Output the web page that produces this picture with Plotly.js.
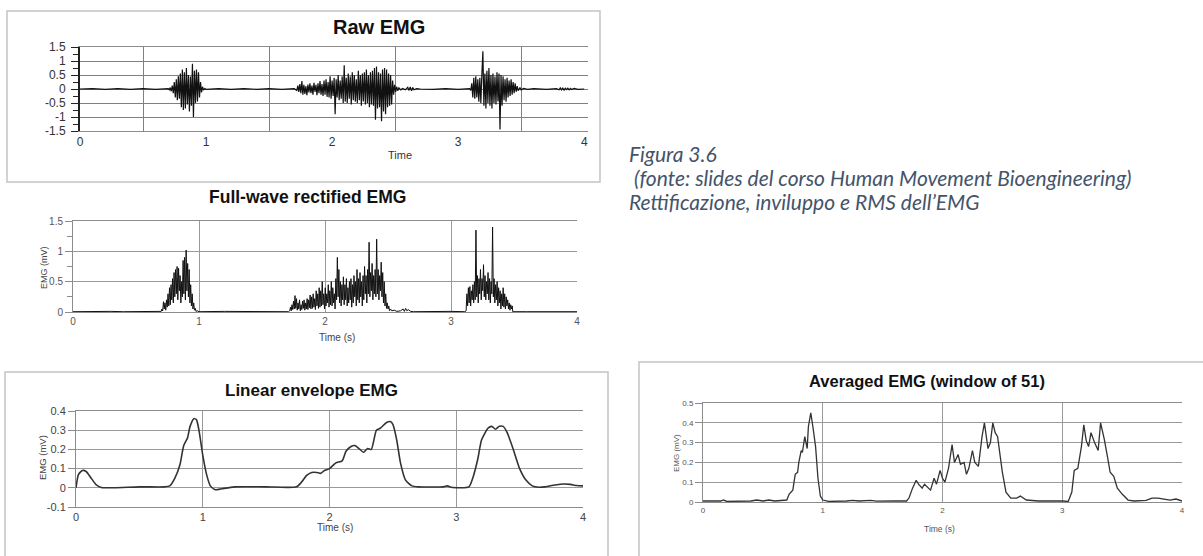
<!DOCTYPE html>
<html>
<head>
<meta charset="utf-8">
<script src="https://cdn.plot.ly/plotly-3.0.1.min.js"></script>
<style>html,body{margin:0;padding:0;background:#fff;}#chart{width:1203px;height:556px;}</style>
</head>
<body>
<div id="chart"></div>
<script>
// ---------- DATA ----------
const tickX = [0, 1, 2, 3, 4];
const tickXText = ['0', '1', '2', '3', '4'];

// Raw EMG
const rawT = [0,0.1,0.2,0.3,0.4,0.5,0.6,0.69,
0.700,0.708,0.716,0.724,0.732,0.740,0.748,0.756,0.764,0.772,0.780,0.788,0.796,0.804,0.812,0.820,0.828,0.836,0.844,0.852,0.860,0.868,0.876,0.884,0.892,0.900,0.908,0.916,0.924,0.932,0.940,0.948,0.956,0.964,0.972,0.980,0.990,1.000,
1.1,1.2,1.3,1.4,1.5,1.6,1.7,
1.720,1.728,1.736,1.744,1.752,1.760,1.768,1.776,1.784,1.792,1.800,1.808,1.816,1.824,1.832,1.840,1.848,1.856,1.864,1.872,1.880,1.888,1.896,1.904,1.912,1.920,1.928,1.936,1.944,1.952,1.960,1.968,1.976,1.984,1.992,2.000,2.008,2.016,2.024,2.032,2.040,2.048,2.056,2.064,2.072,2.080,2.088,2.096,2.104,2.112,2.120,2.128,2.136,2.144,2.152,2.160,2.168,2.176,2.184,2.192,2.200,2.208,2.216,2.224,2.232,2.240,2.248,2.256,2.264,2.272,2.280,2.288,2.296,2.304,2.312,2.320,2.328,2.336,2.344,2.352,2.360,2.368,2.376,2.384,2.392,2.400,2.408,2.416,2.424,2.432,2.440,2.448,2.456,2.464,2.472,2.480,2.488,2.496,2.504,2.512,2.520,2.530,2.545,2.56,2.58,2.60,2.61,2.62,2.63,2.64,2.65,2.67,2.7,
2.8,2.9,3.0,3.09,
3.100,3.108,3.116,3.124,3.132,3.140,3.148,3.156,3.164,3.172,3.180,3.188,3.196,3.204,3.212,3.220,3.228,3.236,3.244,3.252,3.260,3.268,3.276,3.284,3.292,3.300,3.308,3.316,3.324,3.332,3.340,3.348,3.356,3.364,3.372,3.380,3.388,3.396,3.404,3.412,3.420,3.428,3.436,3.444,3.452,3.460,3.468,3.476,3.49,3.50,3.52,3.55,
3.6,3.7,3.78,3.8,3.81,3.82,3.83,3.84,3.85,3.86,3.87,3.88,3.89,3.9,3.92,3.95,4.0];
const rawV = [0,0.01,-0.01,0.01,-0.01,0.01,-0.01,0,
0.01,-0.03,0.05,-0.08,0.12,-0.15,0.25,-0.3,0.35,-0.4,0.45,-0.35,0.55,-0.65,0.7,-0.75,0.6,-0.7,0.75,-0.55,0.5,-0.8,0.45,-0.6,0.9,-1.0,0.65,-0.5,0.7,-0.45,0.6,-0.3,0.25,-0.12,0.08,-0.04,0.02,-0.01,
0.01,-0.01,0.01,-0.01,0.01,-0.01,0.01,
-0.05,0.12,-0.1,0.18,-0.15,0.28,-0.2,0.15,-0.18,0.1,-0.22,0.16,-0.12,0.2,-0.15,0.12,-0.2,0.22,-0.1,0.15,-0.22,0.2,-0.15,0.28,-0.2,0.18,-0.25,0.3,-0.2,0.35,-0.28,0.25,-0.3,0.45,-0.35,0.3,-0.25,0.4,-0.9,0.35,-0.3,0.5,-0.4,0.3,-0.35,0.45,-0.5,0.85,-0.45,0.4,-0.5,0.55,-0.35,0.45,-0.55,0.6,-0.4,0.5,-0.45,0.35,-0.5,0.65,-0.4,0.5,-0.6,0.55,-0.45,0.6,-0.55,0.7,-0.5,0.5,-0.65,0.6,-0.55,0.65,-0.6,0.75,-1.1,0.8,-0.7,0.6,-0.65,0.55,-1.15,0.7,-0.8,0.75,-0.9,0.7,-0.65,0.55,-0.6,0.5,-0.55,0.3,-0.2,0.15,-0.1,0.08,-0.06,0.04,-0.03,0.02,-0.03,0.06,-0.05,0.07,-0.06,0.05,-0.03,0.01,0,
-0.01,0.01,-0.01,0.01,
-0.05,0.2,-0.3,0.4,-0.35,0.45,-0.3,0.35,-0.45,0.4,-0.5,0.5,1.35,-0.6,0.55,-0.7,0.65,-0.5,0.75,-0.6,0.5,-0.7,0.55,-0.5,0.45,-0.55,0.6,-0.45,0.55,-1.45,0.5,-0.6,0.45,-0.4,0.35,-0.45,0.4,-0.3,0.3,-0.25,0.35,-0.2,0.25,-0.15,0.2,-0.1,0.1,-0.06,0.05,-0.03,0.02,-0.01,
0.01,-0.01,0.01,-0.03,0.04,-0.03,0.03,-0.04,0.03,-0.02,0.03,-0.03,0.02,-0.02,0.02,-0.01,0];

// Full-wave rectified EMG
const rectT = [0,0.1,0.2,0.3,0.4,0.5,0.6,0.69,
0.700,0.706,0.712,0.718,0.724,0.730,0.736,0.742,0.748,0.754,0.760,0.766,0.772,0.778,0.784,0.790,0.796,0.802,0.808,0.814,0.820,0.826,0.832,0.838,0.844,0.850,0.856,0.862,0.868,0.874,0.880,0.886,0.892,0.898,0.904,0.910,0.916,0.922,0.928,0.934,0.940,0.946,0.952,0.958,0.964,0.970,0.976,0.985,1.0,
1.2,1.4,1.6,1.71,
1.720,1.726,1.732,1.738,1.744,1.750,1.756,1.762,1.768,1.774,1.780,1.786,1.792,1.798,1.804,1.810,1.816,1.822,1.828,1.834,1.840,1.846,1.852,1.858,1.864,1.870,1.876,1.882,1.888,1.894,1.900,1.906,1.912,1.918,1.924,1.930,1.936,1.942,1.948,1.954,1.960,1.966,1.972,1.978,1.984,1.990,1.996,2.002,2.008,2.014,2.020,2.026,2.032,2.038,2.044,2.050,2.056,2.062,2.068,2.074,2.080,2.086,2.092,2.098,2.104,2.110,2.116,2.122,2.128,2.134,2.140,2.146,2.152,2.158,2.164,2.170,2.176,2.182,2.188,2.194,2.200,2.206,2.212,2.218,2.224,2.230,2.236,2.242,2.248,2.254,2.260,2.266,2.272,2.278,2.284,2.290,2.296,2.302,2.308,2.314,2.320,2.326,2.332,2.338,2.344,2.350,2.356,2.362,2.368,2.374,2.380,2.386,2.392,2.398,2.404,2.410,2.416,2.422,2.428,2.434,2.440,2.446,2.452,2.458,2.464,2.470,2.476,2.482,2.488,2.494,2.500,2.506,2.512,2.52,2.53,2.55,2.57,2.6,2.62,2.63,2.64,2.65,2.66,2.68,2.7,
2.8,2.9,3.0,3.11,
3.120,3.126,3.132,3.138,3.144,3.150,3.156,3.162,3.168,3.174,3.180,3.186,3.192,3.198,3.204,3.210,3.216,3.222,3.228,3.234,3.240,3.246,3.252,3.258,3.264,3.270,3.276,3.282,3.288,3.294,3.300,3.306,3.312,3.318,3.324,3.330,3.336,3.342,3.348,3.354,3.360,3.366,3.372,3.378,3.384,3.390,3.396,3.402,3.408,3.414,3.420,3.426,3.432,3.438,3.444,3.450,3.456,3.462,3.468,3.474,3.480,3.486,3.49,
3.6,3.8,4.0];
const rectV = [0.005,0.01,0.005,0.01,0.005,0.01,0.005,0.01,
0.01,0.05,0.02,0.17,0.05,0.15,0.03,0.2,0.08,0.3,0.1,0.4,0.12,0.45,0.2,0.55,0.15,0.65,0.25,0.7,0.3,0.75,0.2,0.72,0.35,0.6,0.15,0.5,0.25,0.85,0.3,0.9,0.2,1.02,0.35,0.8,0.25,0.7,0.15,0.45,0.1,0.3,0.05,0.15,0.03,0.06,0.01,0.02,0.005,
0.01,0.005,0.01,0.005,
0.02,0.08,0.02,0.12,0.04,0.18,0.05,0.27,0.06,0.22,0.03,0.15,0.05,0.2,0.02,0.12,0.04,0.18,0.06,0.2,0.03,0.15,0.05,0.22,0.04,0.2,0.07,0.28,0.05,0.25,0.06,0.3,0.08,0.22,0.04,0.35,0.1,0.3,0.06,0.4,0.08,0.35,0.1,0.5,0.12,0.3,0.05,0.4,0.1,0.3,0.15,0.45,0.08,0.35,0.12,0.5,0.1,0.4,0.15,0.3,0.05,0.55,0.2,0.9,0.25,0.7,0.15,0.5,0.1,0.45,0.2,0.58,0.12,0.45,0.2,0.55,0.1,0.4,0.15,0.5,0.2,0.55,0.08,0.45,0.15,0.6,0.25,0.5,0.1,0.7,0.2,0.55,0.15,0.65,0.25,0.5,0.1,0.6,0.2,0.75,0.3,0.6,0.15,0.7,0.3,1.15,0.25,0.65,0.35,0.8,0.2,0.6,0.3,0.7,0.25,1.2,0.3,0.7,0.2,0.6,0.35,0.82,0.25,0.65,0.15,0.5,0.1,0.3,0.06,0.15,0.05,0.1,0.02,0.05,0.02,0.03,0.01,0.02,0.05,0.01,0.06,0.02,0.04,0.01,0.005,
0.01,0.005,0.01,0.005,
0.02,0.3,0.1,0.4,0.15,0.42,0.1,0.35,0.2,0.45,0.15,0.5,0.2,1.35,0.25,0.6,0.15,0.55,0.3,0.7,0.2,0.55,0.35,0.78,0.25,0.6,0.2,0.5,0.3,0.65,0.2,0.55,0.15,0.5,0.3,1.4,0.25,0.55,0.15,0.45,0.2,0.5,0.1,0.4,0.15,0.35,0.05,0.3,0.1,0.4,0.08,0.3,0.05,0.25,0.1,0.2,0.05,0.15,0.03,0.12,0.05,0.1,0.005,
0.005,0.005,0.005];

// Linear envelope EMG
const envT = [0,0.02,0.05,0.08,0.12,0.16,0.2,0.3,0.5,0.7,0.74,0.78,0.82,0.85,0.88,0.9,0.93,0.95,0.97,1.0,1.03,1.06,1.1,1.15,1.25,1.5,1.74,1.78,1.82,1.86,1.9,1.93,1.96,2.0,2.05,2.1,2.13,2.17,2.2,2.24,2.27,2.3,2.33,2.37,2.4,2.45,2.48,2.5,2.53,2.56,2.6,2.65,2.7,2.9,2.93,2.96,3.1,3.13,3.17,3.2,3.25,3.28,3.31,3.34,3.37,3.4,3.45,3.5,3.55,3.6,3.65,3.7,3.78,3.85,3.9,3.95,4.0];
const envV = [0,0.07,0.09,0.085,0.05,0.015,0.002,0,0.005,0.005,0.01,0.05,0.12,0.22,0.26,0.32,0.36,0.355,0.3,0.17,0.07,0.01,-0.01,-0.005,0.005,0.005,0.005,0.03,0.065,0.08,0.08,0.075,0.09,0.1,0.13,0.14,0.19,0.215,0.22,0.2,0.185,0.205,0.2,0.3,0.31,0.34,0.345,0.33,0.25,0.13,0.04,0.01,0.005,0.005,0.01,0.003,0.005,0.05,0.15,0.25,0.31,0.32,0.305,0.32,0.32,0.29,0.2,0.1,0.04,0.01,0.003,0.005,0.015,0.02,0.018,0.012,0.01];

// Averaged EMG (window of 51)
const avgT = [0,0.15,0.17,0.2,0.4,0.45,0.5,0.55,0.6,0.65,0.7,0.72,0.75,0.77,0.79,0.8,0.82,0.83,0.85,0.86,0.87,0.88,0.9,0.92,0.94,0.96,0.98,1.0,1.05,1.2,1.25,1.3,1.4,1.45,1.5,1.6,1.7,1.72,1.75,1.78,1.8,1.83,1.85,1.88,1.9,1.93,1.95,1.98,2.0,2.02,2.05,2.08,2.1,2.13,2.15,2.18,2.2,2.22,2.25,2.27,2.3,2.33,2.35,2.38,2.4,2.42,2.44,2.46,2.5,2.53,2.57,2.62,2.65,2.7,2.8,3.0,3.05,3.08,3.1,3.13,3.16,3.18,3.2,3.22,3.24,3.27,3.3,3.32,3.35,3.38,3.4,3.43,3.46,3.5,3.55,3.6,3.7,3.75,3.8,3.85,3.9,3.95,4.0];
const avgV = [0.005,0.005,0.01,0.003,0.005,0.01,0.005,0.01,0.005,0.008,0.01,0.04,0.06,0.14,0.15,0.2,0.26,0.25,0.33,0.3,0.27,0.38,0.45,0.37,0.28,0.12,0.03,0.01,0.003,0.005,0.008,0.005,0.008,0.004,0.005,0.005,0.005,0.02,0.07,0.11,0.09,0.07,0.09,0.07,0.06,0.12,0.09,0.16,0.12,0.1,0.17,0.29,0.2,0.24,0.19,0.2,0.14,0.17,0.26,0.2,0.18,0.33,0.4,0.27,0.3,0.4,0.35,0.33,0.15,0.05,0.02,0.02,0.03,0.01,0.005,0.005,0.003,0.05,0.16,0.17,0.28,0.39,0.31,0.28,0.35,0.3,0.26,0.4,0.32,0.22,0.15,0.13,0.07,0.04,0.01,0.005,0.008,0.02,0.02,0.015,0.01,0.015,0.005];

// ---------- LAYOUT HELPERS ----------
const W = 1203, H = 556;
const px = v => v / W;
const py = v => 1 - v / H;
const ARIAL = 'Liberation Sans, Arial, sans-serif';
const GRID = '#9a9a9a';
const FRAME = '#8c8c8c';

const traces = [
  {x: rawT, y: rawV, xaxis: 'x', yaxis: 'y', mode: 'lines', line: {color: '#111', width: 1.2}, hoverinfo: 'skip'},
  {x: rectT, y: rectV, xaxis: 'x2', yaxis: 'y2', mode: 'lines', line: {color: '#111', width: 1}, hoverinfo: 'skip'},
  {x: envT, y: envV, xaxis: 'x3', yaxis: 'y3', mode: 'lines', line: {color: '#333', width: 1.6, shape: 'spline', smoothing: 0.6}, hoverinfo: 'skip'},
  {x: avgT, y: avgV, xaxis: 'x4', yaxis: 'y4', mode: 'lines', line: {color: '#333', width: 1.3}, hoverinfo: 'skip'}
];

function xax(domain, range, anchor, fsize, fcolor, gridvals, gridColor) {
  return {
    domain: domain, range: range, anchor: anchor,
    tickvals: tickX, ticktext: tickXText, ticks: '',
    showgrid: false, zeroline: false,
    showline: true, linecolor: FRAME, linewidth: 1, mirror: true,
    tickfont: {family: ARIAL, size: fsize, color: fcolor},
    minor: {tickvals: gridvals, showgrid: true, gridcolor: gridColor || GRID, gridwidth: 1, ticks: ''},
    fixedrange: true
  };
}
function yax(domain, range, anchor, vals, texts, minorVals, fsize, fcolor, lineColor, lineWidth, gridColor, standoff) {
  return {
    domain: domain, range: range, anchor: anchor,
    tickvals: vals, ticktext: texts,
    ticks: 'outside', ticklen: 7, tickcolor: lineColor, tickwidth: 1,
    ticklabelstandoff: standoff || 0,
    showgrid: true, gridcolor: gridColor || GRID, gridwidth: 1, zeroline: false,
    showline: true, linecolor: lineColor, linewidth: lineWidth,
    tickfont: {family: ARIAL, size: fsize, color: fcolor},
    minor: {tickvals: minorVals, ticks: 'outside', ticklen: 5, tickcolor: lineColor, showgrid: false},
    fixedrange: true
  };
}

const rawY = [-1.5, -1, -0.5, 0, 0.5, 1, 1.5];
const rawYT = ['-1.5', '-1', '-0.5', '0', '0.5', '1', '1.5'];
const rectY = [0, 0.5, 1, 1.5];
const rectYT = ['0', '0.5', '1', '1.5'];
const envY = [-0.1, 0, 0.1, 0.2, 0.3, 0.4];
const envYT = ['-0.1', '0', '0.1', '0.2', '0.3', '0.4'];
const avgY = [0, 0.1, 0.2, 0.3, 0.4, 0.5];
const avgYT = ['0', '0.1', '0.2', '0.3', '0.4', '0.5'];

function ann(text, x, y, size, opts) {
  return Object.assign({
    text: text, x: px(x), y: py(y), xref: 'paper', yref: 'paper',
    xanchor: 'center', yanchor: 'middle', showarrow: false,
    font: {family: ARIAL, size: size, color: '#111'}
  }, opts || {});
}

const CAPTION = {family: 'Lato, Open Sans, sans-serif', size: 21, color: '#44546A', style: 'italic'};

const layout = {
  width: W, height: H, margin: {l: 0, r: 0, t: 0, b: 0},
  paper_bgcolor: '#fff', plot_bgcolor: 'rgba(0,0,0,0)', showlegend: false,
  xaxis: xax([px(80), px(588)], [0, 4.03], 'y', 12, '#333', [0.5, 1.5, 2.5, 3.5], '#808080'),
  yaxis: yax([py(131), py(47)], [-1.5, 1.5], 'x', rawY, rawYT, [-1.25, -0.75, -0.25, 0.25, 0.75, 1.25], 12, '#333', '#222', 2, '#808080', 3),
  xaxis2: xax([px(73), px(577)], [0, 4], 'y2', 10, '#555', [1, 2, 3]),
  yaxis2: yax([py(312), py(221)], [0, 1.5], 'x2', rectY, rectYT, [0.25, 0.75, 1.25], 10, '#555', FRAME, 1),
  xaxis3: xax([px(76), px(583)], [0, 4], 'y3', 11, '#444', [1, 2, 3]),
  yaxis3: yax([py(507), py(411)], [-0.1, 0.4], 'x3', envY, envYT, [], 11, '#444', FRAME, 1),
  xaxis4: xax([px(703), px(1182)], [0, 4], 'y4', 8, '#555', [1, 2, 3]),
  yaxis4: yax([py(502), py(403)], [0, 0.5], 'x4', avgY, avgYT, [], 8, '#555', FRAME, 1),
  shapes: [
    {type: 'rect', xref: 'paper', yref: 'paper', x0: px(7), x1: px(600), y0: py(182), y1: py(11), line: {color: '#c4c4c4', width: 1.5}},
    {type: 'rect', xref: 'paper', yref: 'paper', x0: px(5), x1: px(608), y0: py(570), y1: py(372), line: {color: '#c4c4c4', width: 1.5}},
    {type: 'rect', xref: 'paper', yref: 'paper', x0: px(639), x1: px(1215), y0: py(570), y1: py(362), line: {color: '#c4c4c4', width: 1.5}}
  ],
  annotations: [
    ann('<b>Raw EMG</b>', 379, 27, 20),
    ann('Time', 400, 155, 11, {font: {family: ARIAL, size: 11, color: '#333'}}),
    ann('<b>Full-wave rectified EMG</b>', 307, 197, 17.5),
    ann('Time (s)', 337, 337, 10, {font: {family: ARIAL, size: 10, color: '#444'}}),
    ann('EMG (mV)', 44, 268, 9, {textangle: -90, font: {family: ARIAL, size: 9, color: '#444'}}),
    ann('<b>Linear envelope EMG</b>', 311, 390, 17),
    ann('Time (s)', 335, 527, 10, {font: {family: ARIAL, size: 10, color: '#444'}}),
    ann('EMG (mV)', 42, 458, 10, {textangle: -90, font: {family: ARIAL, size: 9.5, color: '#444'}}),
    ann('<b>Averaged EMG (window of 51)</b>', 927, 381, 16.5),
    ann('Time (s)', 939, 529, 8.5, {font: {family: ARIAL, size: 8.5, color: '#555'}}),
    ann('EMG (mV)', 676, 453, 8, {textangle: -90, font: {family: ARIAL, size: 8, color: '#555'}}),
    {text: 'Figura 3.6', x: px(627), y: py(153), xref: 'paper', yref: 'paper', xanchor: 'left', yanchor: 'middle', showarrow: false, font: CAPTION},
    {text: '(fonte: slides del corso Human Movement Bioengineering)', x: px(632), y: py(177), xref: 'paper', yref: 'paper', xanchor: 'left', yanchor: 'middle', showarrow: false, font: CAPTION},
    {text: 'Rettificazione, inviluppo e RMS dell’EMG', x: px(627), y: py(202), xref: 'paper', yref: 'paper', xanchor: 'left', yanchor: 'middle', showarrow: false, font: CAPTION}
  ]
};

Plotly.newPlot('chart', traces, layout, {displayModeBar: false, staticPlot: true});
</script>
</body>
</html>
